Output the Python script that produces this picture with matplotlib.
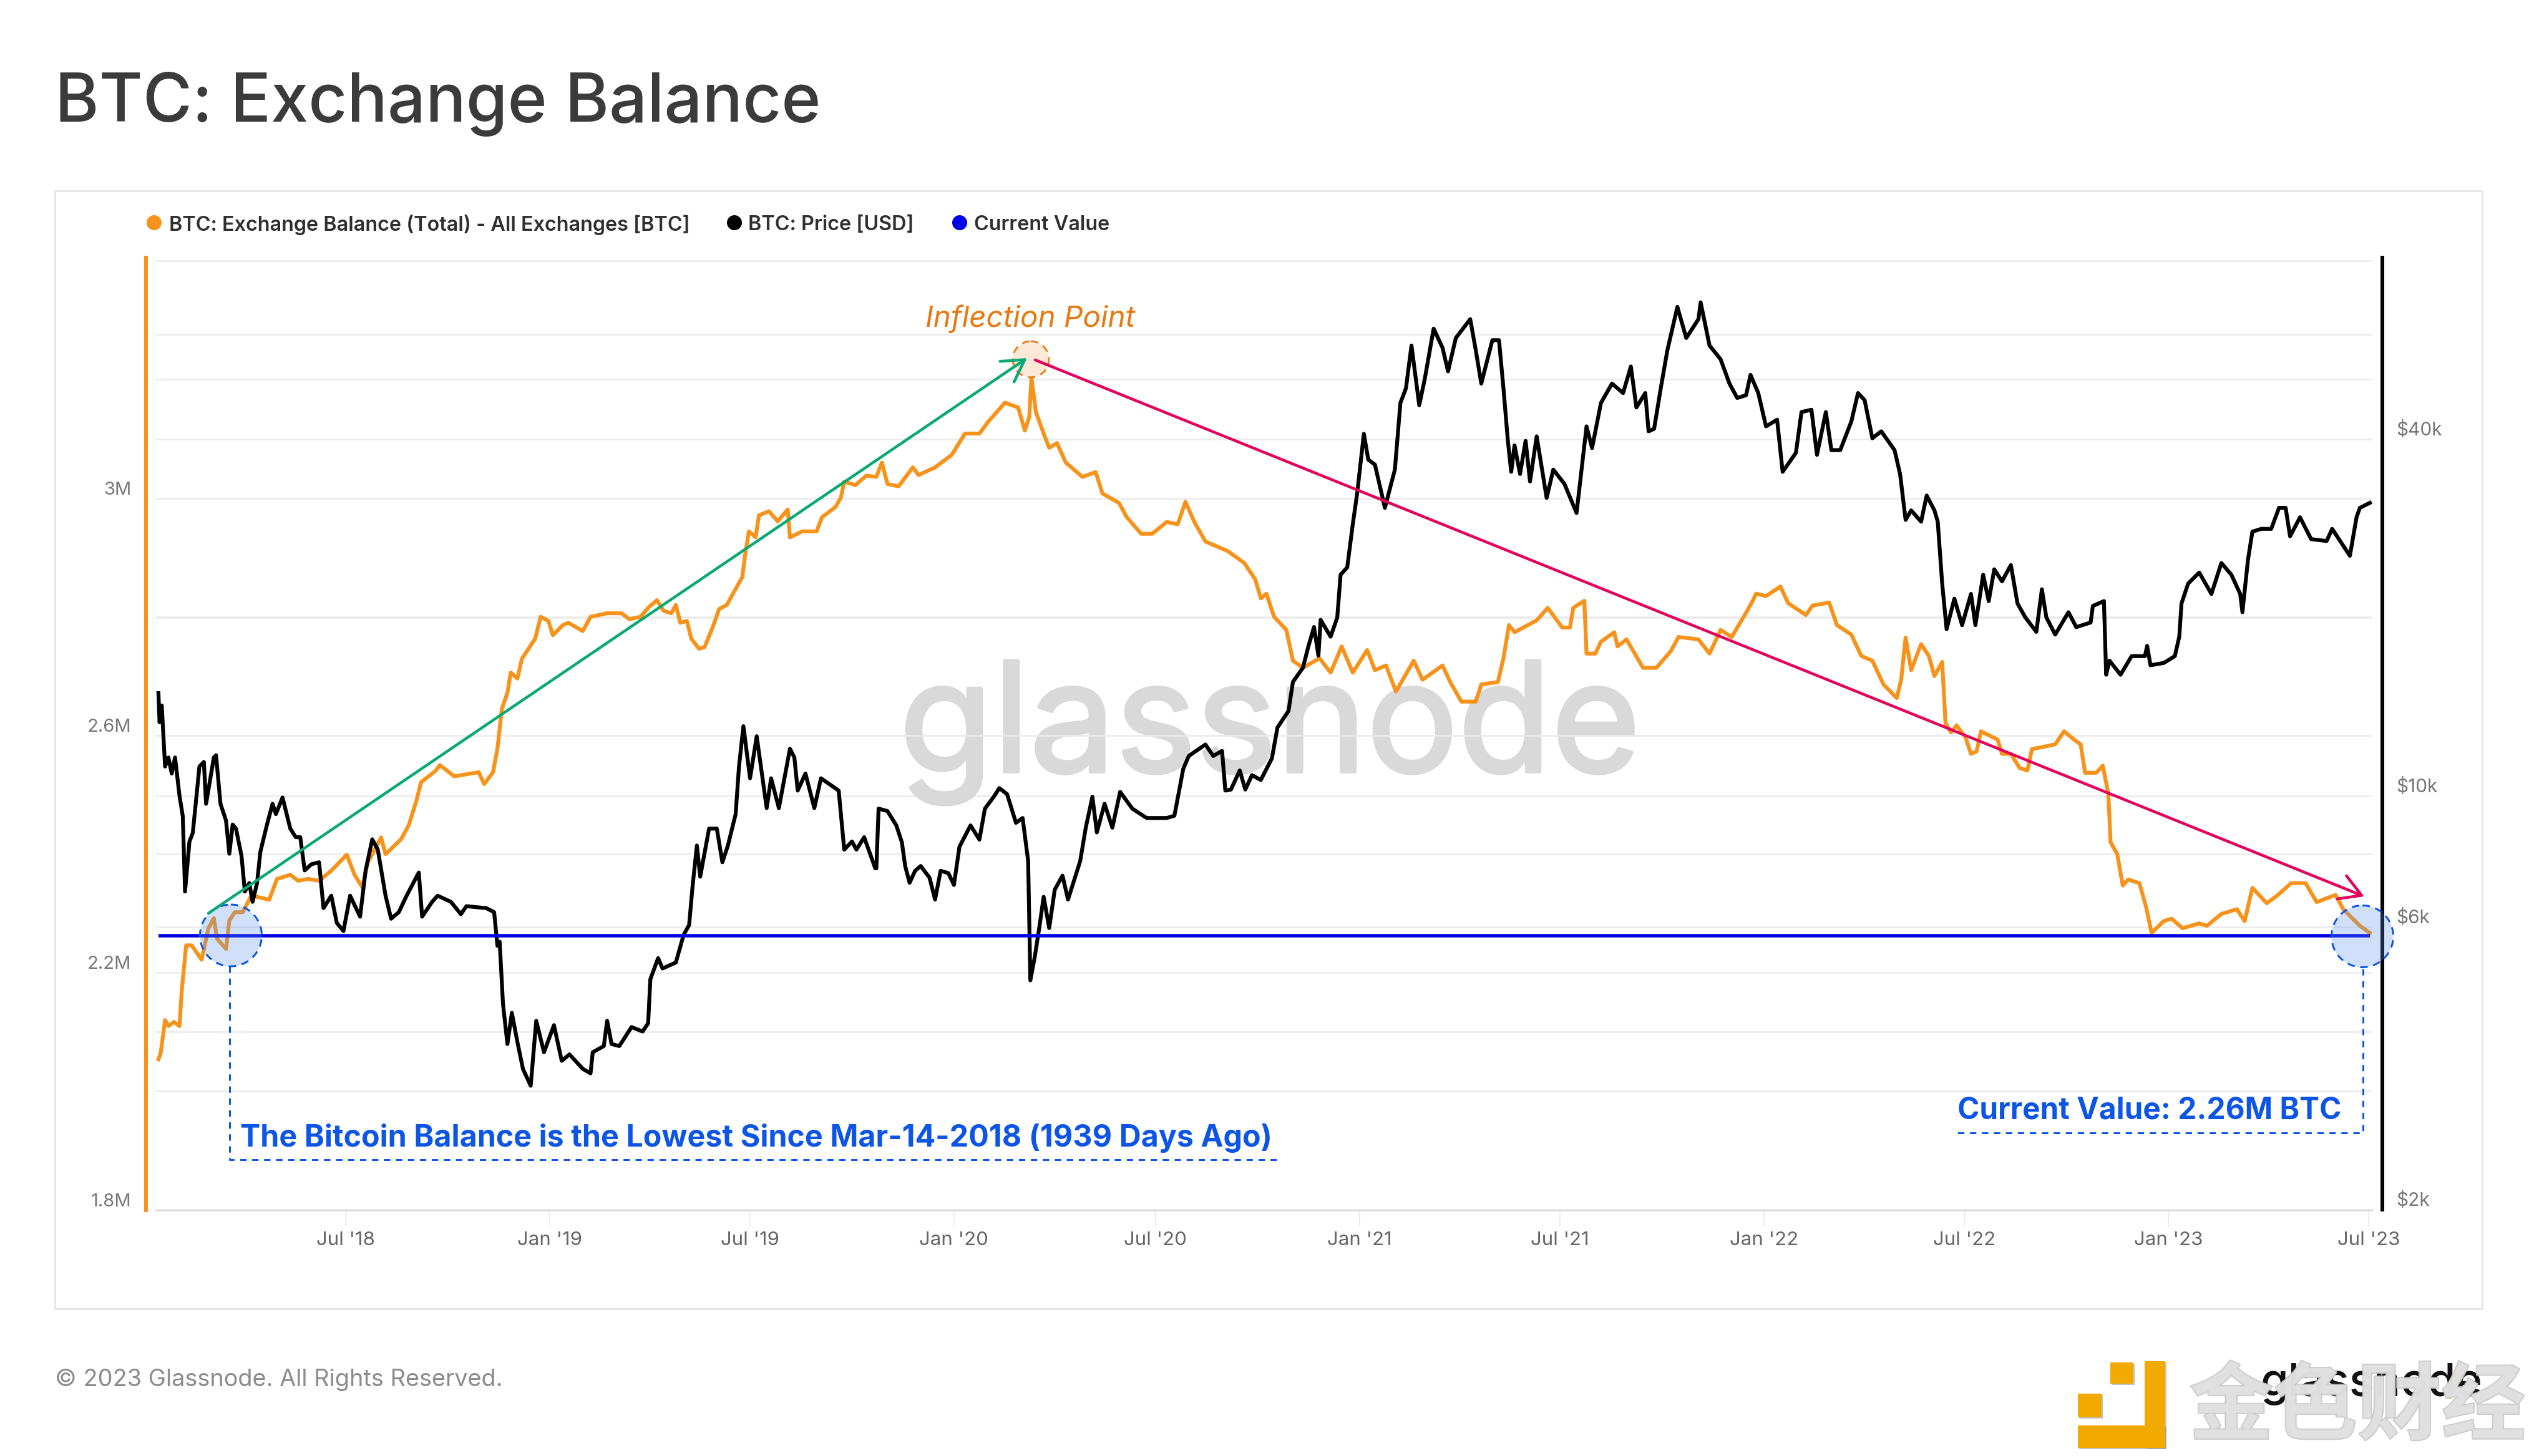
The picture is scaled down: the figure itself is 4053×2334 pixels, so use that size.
import datetime as dt
import matplotlib
matplotlib.use("Agg")
import matplotlib.pyplot as plt
import matplotlib.patheffects as pe
from matplotlib.patches import Circle, Rectangle
from matplotlib.ticker import NullFormatter, FixedLocator

# ---------- data ----------
base_date = dt.datetime(2018, 1, 1)

balance_day = [12,14,18,21,26,31,33,37,42,51,57,62,65,73,76,81,88,96,112,119,131,138,147,157,168,182,189,196,201,213,
 217,231,238,245,249,262,266,279,301,306,314,318,322,327,330,336,340,347,352,357,364,368,377,382,395,402,417,430,437,447,
 455,462,468,475,479,483,489,493,500,505,513,518,525,533,539,542,545,551,554,563,571,580,582,593,606,611,623,628,631,641,
 651,660,665,670,680,693,698,713,728,740,753,761,776,788,794,798,800,804,811,816,823,831,846,858,864,879,886,899,909,922,
 932,939,947,957,977,992,1002,1007,1012,1019,1030,1036,1045,1060,1070,1080,1090,1103,1110,1120,1129,1145,1153,1171,1178,
 1188,1201,1206,1221,1226,1231,1236,1256,1266,1279,1286,1289,1299,1301,1309,1314,1326,1329,1337,1352,1364,1377,1384,1402,
 1412,1422,1432,1445,1451,1454,1463,1476,1483,1499,1505,1520,1527,1540,1549,1559,1569,1581,1585,1589,1594,1603,1610,1615,
 1622,1625,1630,1635,1643,1648,1653,1657,1672,1676,1684,1692,1699,1703,1714,1724,1732,1741,1747,1751,1761,1767,1772,1774,
 1780,1785,1790,1800,1806,1811,1822,1829,1839,1854,1861,1874,1888,1895,1902,1915,1925,1937,1950,1960,1977,1984,1999,2008]
balance_m = [2.054,2.064,2.12,2.11,2.117,2.11,2.169,2.246,2.246,2.222,2.274,2.292,2.257,2.24,2.288,2.302,2.302,2.33,2.323,2.358,
 2.365,2.355,2.358,2.355,2.372,2.399,2.365,2.344,2.386,2.428,2.40,2.425,2.449,2.491,2.521,2.54,2.55,2.531,2.538,2.518,
 2.538,2.578,2.645,2.672,2.706,2.696,2.729,2.749,2.763,2.80,2.793,2.769,2.786,2.79,2.776,2.80,2.806,2.806,2.796,2.80,
 2.817,2.828,2.81,2.806,2.82,2.79,2.793,2.763,2.746,2.749,2.786,2.813,2.82,2.847,2.867,2.911,2.944,2.934,2.971,2.978,
 2.961,2.981,2.934,2.944,2.944,2.968,2.985,3.001,3.028,3.022,3.038,3.036,3.06,3.024,3.02,3.052,3.039,3.052,3.073,3.109,
 3.109,3.129,3.161,3.153,3.114,3.137,3.203,3.145,3.109,3.085,3.093,3.06,3.036,3.044,3.008,2.992,2.968,2.94,2.94,2.96,
 2.956,2.994,2.96,2.927,2.911,2.891,2.863,2.831,2.839,2.80,2.778,2.726,2.714,2.73,2.706,2.75,2.706,2.744,2.71,2.718,
 2.674,2.726,2.694,2.718,2.69,2.657,2.657,2.686,2.69,2.73,2.786,2.774,2.794,2.815,2.782,2.782,2.815,2.827,2.738,2.738,
 2.758,2.774,2.75,2.762,2.714,2.714,2.742,2.766,2.762,2.738,2.778,2.766,2.807,2.827,2.839,2.835,2.851,2.823,2.803,2.819,
 2.824,2.786,2.77,2.734,2.726,2.686,2.663,2.694,2.765,2.71,2.754,2.734,2.70,2.724,2.621,2.605,2.617,2.597,2.569,2.573,
 2.607,2.593,2.569,2.569,2.545,2.541,2.577,2.581,2.585,2.607,2.593,2.585,2.537,2.537,2.549,2.501,2.42,2.40,2.347,2.357,
 2.351,2.311,2.267,2.287,2.291,2.275,2.283,2.279,2.299,2.307,2.287,2.343,2.317,2.331,2.351,2.351,2.319,2.331,2.307,2.279,2.267]

price_day = [12,13,15,18,21,24,27,31,34,36,40,43,49,53,55,62,64,68,73,76,79,82,87,90,94,97,101,104,110,115,118,124,131,136,140,
 144,150,157,161,168,173,179,185,194,199,205,210,217,222,229,236,247,250,259,264,276,285,290,308,315,318,320,323,327,331,336,
 341,348,353,360,369,376,383,395,402,404,414,417,421,428,439,449,454,456,463,467,479,486,491,494,498,501,509,516,521,526,533,
 536,540,546,552,561,565,572,582,586,589,596,604,610,626,631,638,642,649,659,660,662,670,678,683,686,690,695,700,708,713,718,
 725,730,735,745,753,758,766,771,778,786,792,797,799,803,807,811,816,821,828,833,844,849,855,859,866,873,880,891,904,922,929,
 937,942,957,964,972,975,980,988,993,999,1007,1017,1022,1032,1036,1045,1050,1055,1059,1061,1070,1076,1079,1085,1090,1094,1100,
 1104,1110,1119,1128,1133,1138,1143,1150,1155,1163,1171,1176,1183,1196,1201,1206,1216,1222,1226,1230,1233,1236,1241,1246,1250,
 1256,1265,1271,1281,1292,1301,1306,1314,1324,1334,1341,1346,1354,1357,1362,1368,1374,1383,1391,1402,1404,1412,1422,1430,1437,
 1445,1449,1456,1463,1473,1478,1490,1495,1504,1509,1517,1522,1530,1540,1546,1552,1559,1567,1579,1584,1589,1594,1603,1608,1615,
 1618,1622,1626,1633,1640,1648,1652,1659,1664,1669,1676,1684,1690,1697,1707,1712,1716,1724,1736,1743,1756,1758,1768,1770,1773,
 1783,1793,1805,1807,1810,1822,1832,1836,1838,1844,1854,1865,1874,1883,1891,1893,1898,1902,1910,1919,1926,1932,1936,1945,1955,
 1969,1974,1990,1996,1999,2008]
price_k = [14.9,13.3,14.2,11.2,11.6,10.9,11.6,10.0,9.23,6.89,8.37,8.65,11.2,11.4,9.69,11.6,11.7,9.69,9.08,7.98,8.94,8.80,7.91,6.89,7.12,6.62,7.12,8.04,8.94,9.69,
 9.31,9.93,8.80,8.51,8.51,7.48,7.66,7.72,6.46,6.78,6.10,5.91,6.78,6.25,7.48,8.44,8.11,6.78,6.20,6.36,6.78,7.42,6.25,6.62,6.78,6.62,6.31,6.51,6.46,6.36,
 5.58,5.67,4.45,3.81,4.30,3.84,3.46,3.24,4.17,3.69,4.10,3.57,3.66,3.46,3.40,3.69,3.78,4.17,3.81,3.78,4.07,4.0,4.13,4.90,5.32,5.11,5.23,5.82,6.05,7.0,
 8.24,7.30,8.80,8.80,7.72,8.24,9.31,11.2,13.1,10.7,12.6,9.53,10.7,9.53,12.0,11.6,10.2,10.9,9.53,10.7,10.2,8.11,8.37,8.11,8.51,7.54,7.54,9.51,9.42,8.91,
 8.35,7.61,7.13,7.47,7.61,7.27,6.68,7.47,7.40,7.07,8.20,8.91,8.43,9.51,9.96,10.3,10.06,9.0,9.17,7.76,4.88,5.35,5.98,6.75,5.98,6.94,7.33,6.68,7.76,8.83,
 9.96,8.67,9.69,8.83,10.15,9.51,9.17,9.17,9.25,11.1,11.67,12.2,11.67,11.9,10.2,10.24,11.03,10.24,10.83,10.63,11.56,13.03,13.9,15.56,16.44,17.88,19.26,17.23,19.8,18.55,
 19.98,23.6,24.28,28.7,32.4,40.8,36.9,36.2,30.6,35.5,46.0,48.7,57.5,45.6,50.5,61.4,57.0,52.0,59.2,63.7,56.5,49.6,58.7,58.7,48.7,39.7,35.2,39.0,34.9,39.7,
 33.9,40.4,31.8,35.5,33.6,30.0,42.0,38.6,46.0,49.6,47.8,53.0,45.2,47.8,41.2,41.6,48.7,56.5,66.8,59.2,63.7,68.0,57.5,54.5,49.6,46.9,47.4,51.3,47.8,42.0,
 43.1,35.2,37.9,44.4,44.8,37.6,44.4,38.3,38.3,42.8,47.8,46.5,40.1,41.2,38.3,34.9,29.2,30.3,29.0,32.1,30.3,29.0,22.8,19.1,21.5,19.4,21.9,19.4,23.6,21.3,
 24.1,23.0,24.5,21.1,20.0,18.9,22.3,20.0,18.7,20.4,19.25,19.6,20.9,21.3,16.0,16.9,16.0,17.2,17.2,17.9,16.6,16.75,17.2,18.55,21.1,22.8,23.8,21.9,24.7,23.6,
 21.9,20.4,25.0,27.9,28.2,28.2,30.6,30.6,27.4,29.5,27.1,26.9,28.2,25.4,29.5,30.6,31.2]

current_value_m = 2.262
left_labels = ["1.8M", "2.2M", "2.6M", "3M"]
left_label_values = [1.8, 2.2, 2.6, 3.0]
left_grid_values = [2.0, 2.4, 2.8, 3.2, 3.4]
right_labels = ["$2k", "$6k", "$10k", "$40k"]
right_label_values = [2, 6, 10, 40]
right_grid_values = [4, 20, 60]
x_tick_labels = ["Jul '18", "Jan '19", "Jul '19", "Jan '20", "Jul '20", "Jan '21", "Jul '21", "Jan '22", "Jul '22", "Jan '23", "Jul '23"]
x_tick_dates = [dt.datetime(2018,7,1), dt.datetime(2019,1,1), dt.datetime(2019,7,1), dt.datetime(2020,1,1), dt.datetime(2020,7,1),
                dt.datetime(2021,1,1), dt.datetime(2021,7,1), dt.datetime(2022,1,1), dt.datetime(2022,7,1), dt.datetime(2023,1,1), dt.datetime(2023,7,1)]

# ---------- figure ----------
W, H = 4053, 2334
PX = 72 / 100  # points per output pixel
plt.rcParams['font.family'] = ['Inter', 'DejaVu Sans']
fig = plt.figure(figsize=(W / 100, H / 100), dpi=100, facecolor='white')

L, R, T, B = 250, 3802, 413, 1939.5
pos = [L / W, 1 - B / H, (R - L) / W, (B - T) / H]

to_dates = lambda days: [base_date + dt.timedelta(days=d) for d in days]
xlim = (base_date + dt.timedelta(days=9.8), base_date + dt.timedelta(days=2010.3))
GRID = '#ebebeb'

# axis carrying the right-hand gridlines and watermark, at the back
ag = fig.add_axes(pos, zorder=0)
ag.set_yscale('log'); ag.set_ylim(2, 80.9); ag.set_xlim(xlim)
ag.set_yticks(right_label_values + right_grid_values); ag.yaxis.set_minor_locator(FixedLocator([]))
ag.set_yticklabels([]); ag.set_xticks([])
ag.tick_params(left=False, right=False)
ag.grid(axis='y', color=GRID, lw=2.6 * PX)
ag.set_axisbelow(True)
for s in ag.spines.values():
    s.set_visible(False)
ag.text((2035 - L) / (R - L), 1 - (1237 - T) / (B - T), 'glassnode', transform=ag.transAxes, ha='center', va='baseline',
        fontsize=176, color='#d9d9d9', path_effects=[pe.withStroke(linewidth=4, foreground='#d9d9d9')])

# left axis: balance
ax = fig.add_axes(pos, zorder=1)
ax.patch.set_alpha(0)
ax.set_xlim(xlim); ax.set_ylim(1.8, 3.4056)
ax.plot(to_dates(balance_day), balance_m, color='#f7931a', lw=6.2 * PX, solid_joinstyle='round', zorder=3)
for s in ('top', 'right'):
    ax.spines[s].set_visible(False)
ax.spines['bottom'].set_color('#dcdcdc'); ax.spines['bottom'].set_linewidth(3 * PX)
ax.spines['left'].set_position(('outward', 16 * PX))
ax.spines['left'].set_color('#f7931a'); ax.spines['left'].set_linewidth(6 * PX)
ax.set_yticks(left_label_values); ax.set_yticklabels(left_labels)
ax.set_yticks(left_grid_values, minor=True)
ax.grid(axis='y', which='both', color=GRID, lw=2.6 * PX)
ax.set_axisbelow(True)
ax.tick_params(axis='y', which='both', length=0, labelsize=21, labelcolor='#777777', pad=24 * PX)
ax.yaxis.set_minor_formatter(NullFormatter())
ax.set_xticks(x_tick_dates); ax.set_xticklabels(x_tick_labels)
ax.tick_params(axis='x', length=26 * PX, width=2 * PX, color='#ececec', labelsize=22.5, labelcolor='#666666', pad=8 * PX)
for tick in ax.yaxis.get_major_ticks():
    tick.label1.set_verticalalignment('bottom')

# right axis: price
ar = fig.add_axes(pos, zorder=2)
ar.patch.set_alpha(0)
ar.set_xlim(xlim); ar.set_xticks([])
ar.set_yscale('log'); ar.set_ylim(2, 80.9)
ar.plot(to_dates(price_day), price_k, color='#000000', lw=6.2 * PX, solid_joinstyle='round', zorder=3)
for s in ('top', 'left', 'bottom'):
    ar.spines[s].set_visible(False)
ar.spines['right'].set_position(('outward', 16 * PX))
ar.spines['right'].set_color('black'); ar.spines['right'].set_linewidth(6 * PX)
ar.yaxis.tick_right()
ar.set_yticks(right_label_values); ar.set_yticklabels(right_labels)
ar.yaxis.set_minor_locator(FixedLocator([]))
ar.tick_params(axis='y', length=0, labelsize=21.5, labelcolor='#777777', pad=22 * PX)
for tick in ar.yaxis.get_major_ticks():
    tick.label2.set_verticalalignment('bottom')

# current value line (left scale, above price)
al = fig.add_axes(pos, zorder=3)
al.patch.set_alpha(0); al.axis('off')
al.set_xlim(xlim); al.set_ylim(1.8, 3.4056)
al.plot(to_dates([12, 2008]), [current_value_m, current_value_m], color='#0000e6', lw=5.5 * PX, solid_capstyle='butt')

# ---------- overlay in output pixels ----------
ov = fig.add_axes([0, 0, 1, 1], zorder=5)
ov.patch.set_alpha(0); ov.axis('off')
ov.set_xlim(0, W); ov.set_ylim(H, 0)

TXT = '#3b3b3b'
ov.text(88, 195, 'BTC: Exchange Balance', fontsize=77.5, color=TXT, va='baseline', ha='left', fontweight='medium')
ov.add_patch(Rectangle((87.5, 305.5), 3978 - 87.5, 2098 - 305.5, fill=False, ec='#e6e6e6', lw=3 * PX, zorder=0))

for cx, tx, col, s in [(247, 271, '#f7931a', 'BTC: Exchange Balance (Total) - All Exchanges [BTC]'),
                       (1177, 1199, '#000000', 'BTC: Price [USD]'),
                       (1538, 1561, '#0000e6', 'Current Value')]:
    ov.add_patch(Circle((cx, 357), 12, color=col, lw=0))
    ov.text(tx, 357, s, fontsize=23.3, color='#2f2f2f', va='center_baseline', ha='left', fontweight='semibold')

# trend arrows
ov.annotate('', xy=(1646, 574), xytext=(334, 1464),
            arrowprops=dict(arrowstyle='->,head_length=0.55,head_width=0.32', color='#0aa874', lw=4.5 * PX, mutation_scale=45, shrinkA=0, shrinkB=0))
ov.annotate('', xy=(3789, 1437), xytext=(1659, 577),
            arrowprops=dict(arrowstyle='->,head_length=0.55,head_width=0.32', color='#e5005c', lw=4.5 * PX, mutation_scale=45, shrinkA=0, shrinkB=0))

# highlight circles
BLUE = '#0d55e6'
ov.add_patch(Circle((1652, 576), 29, fc='#f4a460', ec='none', alpha=0.25))
ov.add_patch(Circle((1652, 576), 29, fill=False, ec='#e8801a', lw=3 * PX, ls=(0, (4, 3))))
for cx, cy in [(370, 1499.5), (3786, 1501)]:
    ov.add_patch(Circle((cx, cy), 49.5, fc='#5b93ee', ec='none', alpha=0.28))
    ov.add_patch(Circle((cx, cy), 49.5, fill=False, ec=BLUE, lw=3 * PX, ls=(0, (4, 3))))

# dashed callouts
dash = dict(color=BLUE, lw=3 * PX, ls=(0, (3.4, 3)))
ov.plot([368, 368, 2051], [1549, 1859, 1859], **dash)
ov.plot([3787, 3787, 3134], [1553, 1816, 1816], **dash)

ov.text(385, 1838, 'The Bitcoin Balance is the Lowest Since Mar-14-2018 (1939 Days Ago)', fontsize=34.85, color=BLUE,
        fontweight='bold', va='baseline', ha='left')
ov.text(3137, 1794, 'Current Value: 2.26M BTC', fontsize=34.4, color=BLUE, fontweight='bold', va='baseline', ha='left')
ov.text(1483, 524, 'Inflection Point', fontsize=34.3, color='#e8780f', style='italic', va='baseline', ha='left')

# footer
ov.text(88, 2222, '© 2023 Glassnode. All Rights Reserved.', fontsize=27.3, color='#8c8c8c', va='baseline', ha='left')
ov.text(3978, 2238, 'glassnode', fontsize=52, color='#111111', va='baseline', ha='right', fontweight='medium')
ov.plot([3925, 3937], [2238, 2198], color='#f2a900', lw=8 * PX)

GOLD = '#f2a900'
shadow = [pe.withSimplePatchShadow(offset=(1.5, -1.5), shadow_rgbFace='#888888', alpha=0.5)]
for x0, y0, x1, y1 in [(3382, 2184, 3419, 2218), (3437, 2182, 3469.5, 2321), (3329.5, 2285, 3469.5, 2321), (3329.5, 2233.6, 3367.5, 2271.5)]:
    ov.add_patch(Rectangle((x0, y0), x1 - x0, y1 - y0, fc=GOLD, ec='none', path_effects=shadow))
ov.text(3778, 2258, '金色财经', fontsize=97, family=['Noto Sans CJK SC', 'DejaVu Sans'], color='#e0e0e0', alpha=0.88, fontweight='bold',
        ha='center', va='center', path_effects=[pe.withStroke(linewidth=2.5, foreground='#c6c6c6')])

fig.savefig('out.png', dpi=100, facecolor='white')
